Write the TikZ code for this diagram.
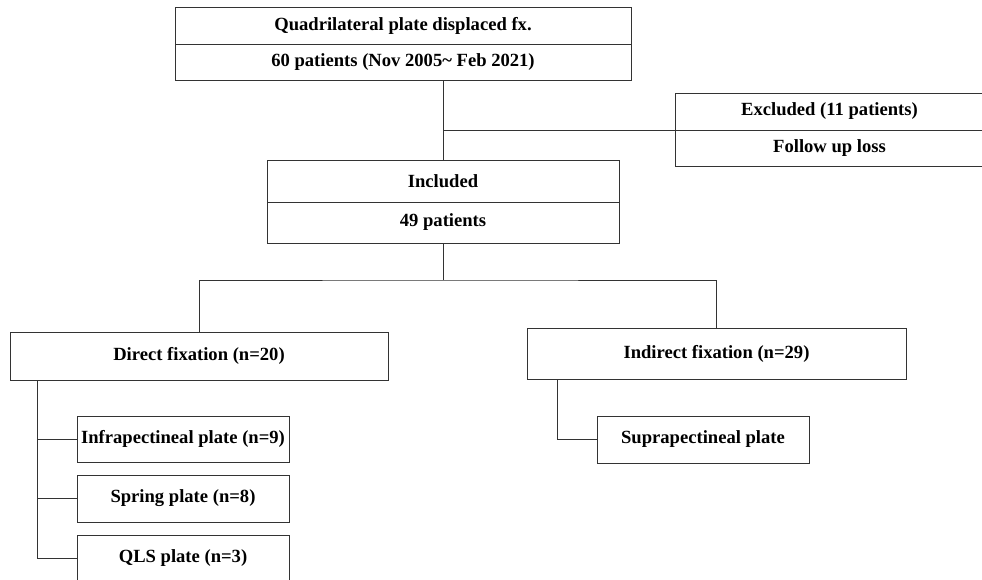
\documentclass[tikz,border=0pt]{standalone}
\usepackage{fontspec}
\setmainfont{Liberation Serif}
\usetikzlibrary{positioning,calc}

\begin{document}
\begin{tikzpicture}[
  x=1pt, y=-1pt,
  box/.style={draw=black!80, line width=0.9pt, fill=white, inner sep=0pt, outer sep=0pt,
    align=center, font=\fontsize{18.6}{21}\selectfont\bfseries},
  link/.style={draw=black!80, line width=0.9pt}
]
\useasboundingbox (0,0) rectangle (982,579);
% screening
\node[box, minimum width=456pt, minimum height=37pt] (title) at (403,25.5) {Quadrilateral plate displaced fx.};
\node[box, minimum width=456pt, minimum height=36pt, below=0pt of title] (total) {60 patients (Nov 2005\textasciitilde\ Feb 2021)};
\node[box, minimum width=309pt, minimum height=37pt] (excl) at (829.5,111.5) {Excluded (11 patients)};
\node[box, minimum width=309pt, minimum height=36pt, below=0pt of excl] (loss) {Follow up loss};
\node[box, minimum width=352pt, minimum height=42pt] (incl) at (443,181) {Included};
\node[box, minimum width=352pt, minimum height=41pt, below=0pt of incl] (inclnum) {49 patients};
% fixation groups
\node[box, minimum width=378pt, minimum height=48pt] (direct) at (199,356) {Direct fixation (n=20)};
\node[box, minimum width=379pt, minimum height=51pt] (indirect) at (716.5,353.5) {Indirect fixation (n=29)};
\node[box, minimum width=212pt, minimum height=46pt] (infra) at (183,439) {Infrapectineal plate (n=9)};
\node[box, minimum width=212pt, minimum height=47pt, below=13pt of infra] (spring) {Spring plate (n=8)};
\node[box, minimum width=212pt, minimum height=46pt, below=13pt of spring] (qls) {QLS plate (n=3)};
\node[box, minimum width=212pt, minimum height=47pt] (supra) at (703,439.5) {Suprapectineal plate};

\coordinate (split) at ([yshift=-37pt]inclnum.south);
\coordinate (dtrunk) at ([xshift=27pt]direct.south west);
\coordinate (itrunk) at ([xshift=30pt]indirect.south west);

\draw[link] (incl.north |- total.south) -- (incl.north);
\draw[link] (incl.north |- loss.north west) -- (loss.north west);
\draw[link] (inclnum.south) -- (split);
\draw[link] (direct.north) |- (split) -| (indirect.north);
\draw[link] (dtrunk) |- (qls.west);
\draw[link] (dtrunk |- infra.west) -- (infra.west);
\draw[link] (dtrunk |- spring.west) -- (spring.west);
\draw[link] (itrunk) |- (supra.west);
\end{tikzpicture}
\end{document}
